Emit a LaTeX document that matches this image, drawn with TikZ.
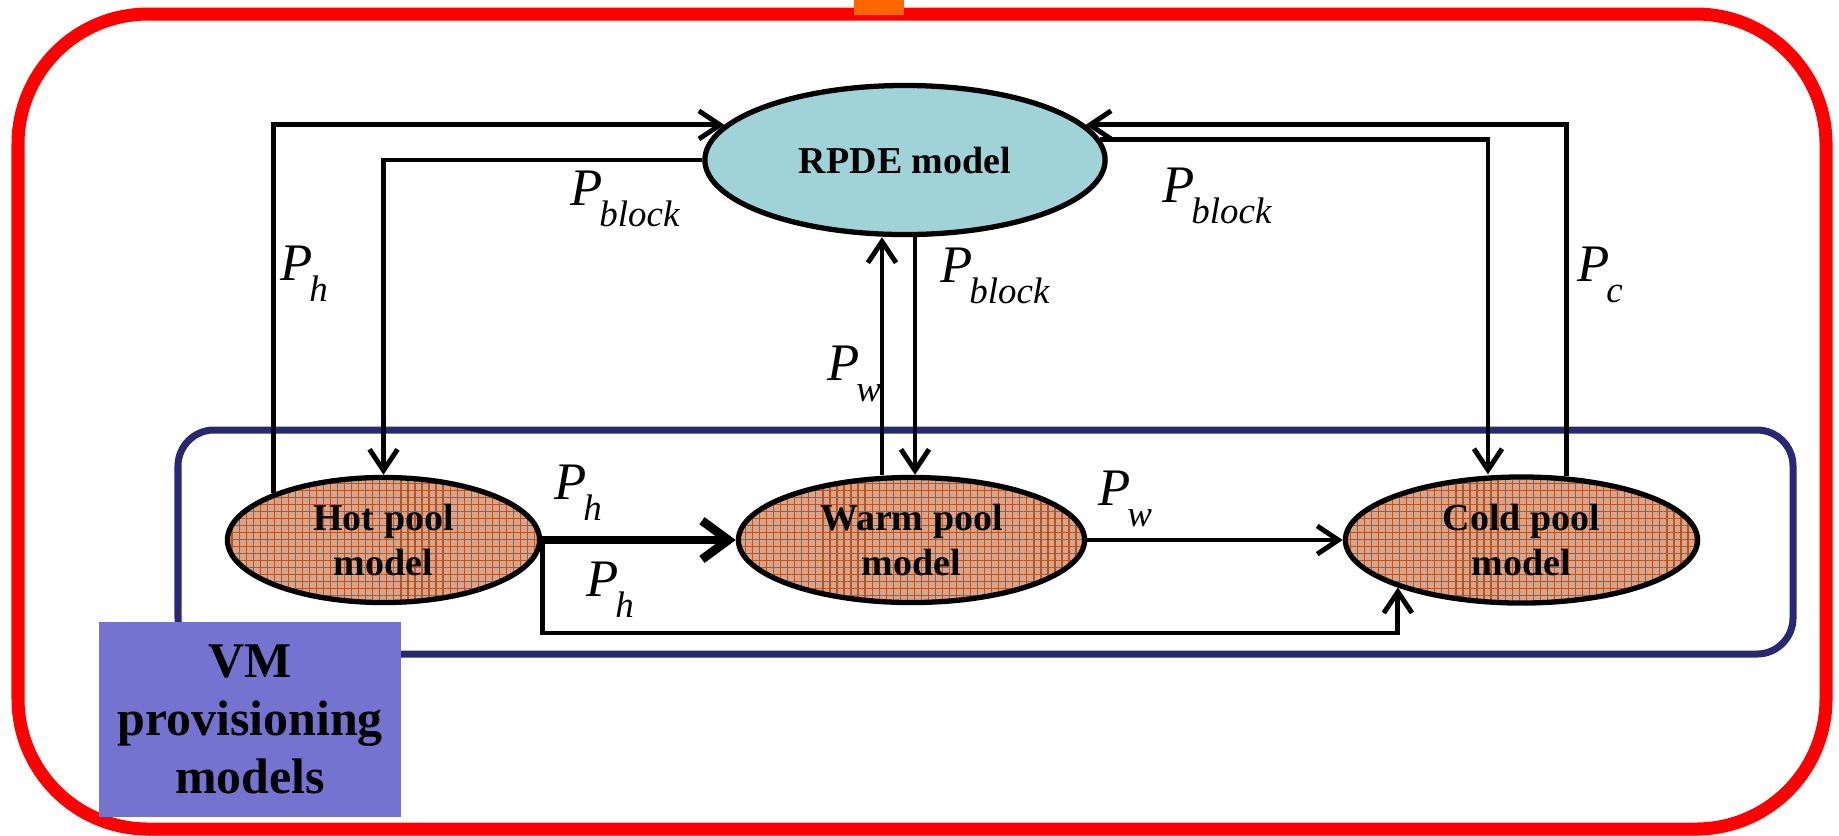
\documentclass[tikz,border=0pt]{standalone}
\usepackage{fontspec}
\setmainfont{Liberation Serif}
\usetikzlibrary{shapes.geometric,arrows.meta,patterns.meta}
\definecolor{redb}{RGB}{255,0,0}
\definecolor{orangeb}{RGB}{255,102,0}
\definecolor{navyb}{RGB}{40,40,115}
\definecolor{vmfill}{RGB}{116,116,208}
\definecolor{rpdefill}{RGB}{160,211,216}
\definecolor{poolbase}{RGB}{216,164,140}
\definecolor{poolgrid}{RGB}{182,84,34}
\newcommand\sbs[1]{\kern-1pt\raisebox{-6pt}{\fontsize{10.5}{10.5}\selectfont #1}}
\begin{document}
\begin{tikzpicture}[x=0.01cm,y=-0.01cm,
  conn/.style={line width=1.4pt,-{Straight Barb[length=6pt,width=8pt]}},
  bigconn/.style={line width=2.5pt,-{Straight Barb[length=7.5pt,width=11pt]}},
  lab/.style={anchor=base west,inner sep=0pt,font=\fontsize{15}{15}\selectfont\itshape},
  model/.style={ellipse,draw,line width=1.5pt,inner sep=0pt,align=center,
    font=\fontsize{10.8}{12.8}\selectfont\bfseries},
  rpdestyle/.style={model,fill=rpdefill},
  pool/.style={model,
    preaction={fill=poolbase},
    preaction={pattern={Lines[distance=2pt,angle=0,line width=0.35pt]},pattern color=poolgrid},
    preaction={pattern={Lines[distance=2pt,angle=90,line width=0.35pt]},pattern color=poolgrid}},
  vmstyle/.style={fill=vmfill,inner sep=0pt,align=center,minimum width=3.02cm,minimum height=1.95cm,
    font=\fontsize{14.2}{16.5}\selectfont\bfseries}]
\useasboundingbox (0,0) rectangle (1839,835);
% outer frames
\draw[redb,line width=3.7pt,rounded corners=1.3cm] (18,14) rectangle (1826,829);
\fill[orangeb] (854,0) rectangle (904,15);
\draw[navyb,line width=2pt,rounded corners=0.36cm] (178,430) rectangle (1793,654);
% models
\node[rpdestyle,minimum width=4.0cm,minimum height=1.49cm] (rpde) at (905,160) {RPDE model};
\node[pool,minimum width=3.12cm,minimum height=1.25cm] (hot) at (383.5,540) {Hot pool\\model};
\node[pool,minimum width=3.46cm,minimum height=1.25cm] (warm) at (911.5,540) {Warm pool\\model};
\node[pool,minimum width=3.52cm,minimum height=1.26cm] (cold) at (1521.5,540) {Cold pool\\model};
\node[vmstyle] (vm) at (250,719.5) {VM\\provisioning\\models};
% column helpers
\coordinate (cx1) at (882,0);
\coordinate (cx2) at (915,0);
\coordinate (cx3) at (1488,0);
% connectors
\draw[conn] (hot.157) |- (rpde.169);
\draw[conn] (rpde.west) -| (hot.north);
\draw[conn] (warm.north -| cx1) -- (rpde.south -| cx1);
\draw[conn] (rpde.south -| cx2) -- (warm.north -| cx2);
\draw[conn] (rpde.6) -| (cold.north -| cx3);
\draw[conn] (cold.55) |- (rpde.11);
\draw[bigconn] (hot.east) -- (warm.west);
\draw[conn] (warm.east) -- (cold.west);
\draw[conn] (hot.east) -- ++(0,93) -| (cold.201);
% labels
\node[lab] (l1) at (280,280) {P\sbs{h}};
\node[lab] (l2) at (570,205) {P\sbs{block}};
\node[lab] (l3) at (940,282) {P\sbs{block}};
\node[lab] (l4) at (827,380) {P\sbs{w}};
\node[lab] (l5) at (1162,202) {P\sbs{block}};
\node[lab] (l6) at (1577,281) {P\sbs{c}};
\node[lab] (l7) at (554,499) {P\sbs{h}};
\node[lab] (l8) at (586,596) {P\sbs{h}};
\node[lab] (l9) at (1098,505) {P\sbs{w}};
\end{tikzpicture}
\end{document}
